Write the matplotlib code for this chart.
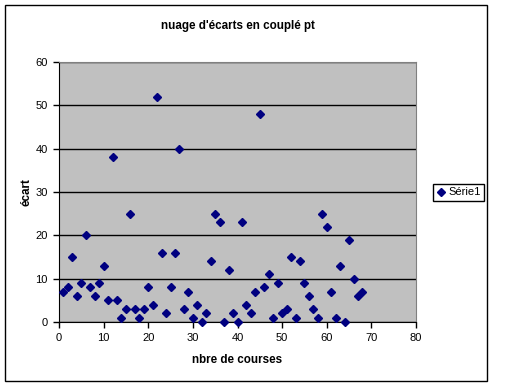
import matplotlib
matplotlib.use("Agg")
import matplotlib.pyplot as plt
from matplotlib.patches import Rectangle

plt.rcParams['font.family'] = ['Liberation Sans', 'DejaVu Sans']

# data
courses = list(range(1, 69))
ecarts = [7, 8, 15, 6, 9, 20, 8, 6, 9, 13,
          5, 38, 5, 1, 3, 25, 3, 1, 3, 8,
          4, 52, 16, 2, 8, 16, 40, 3, 7, 1,
          4, 0, 2, 14, 25, 23, 0, 12, 2, 0,
          23, 4, 2, 7, 48, 8, 11, 1, 9, 2,
          3, 15, 1, 14, 9, 6, 3, 1, 25, 22,
          7, 1, 13, 0, 19, 10, 6, 7]
x_ticks = [0, 10, 20, 30, 40, 50, 60, 70, 80]
y_ticks = [0, 10, 20, 30, 40, 50, 60]

W, H = 512, 387
fig = plt.figure(figsize=(W / 100, H / 100), dpi=100)

# outer chart frame
fig.patches.append(Rectangle((5 / W, (H - 381) / H), 482 / W, 376 / H,
                             transform=fig.transFigure, fill=False,
                             edgecolor='black', linewidth=1))

ax = fig.add_axes([59 / W, (H - 322) / H, (416 - 59) / W, (322 - 62) / H])
ax.set_facecolor('#C0C0C0')

ax.plot(courses, ecarts, linestyle='none', marker='D', markersize=3.6,
        color='#000080', label='Série1', clip_on=False, zorder=3)

ax.set_xlim(0, 80)
ax.set_ylim(0, 60)
ax.set_xticks(x_ticks)
ax.set_yticks(y_ticks)
ax.tick_params(axis='both', labelsize=8, length=4, width=1, color='black',
               direction='out', pad=4)
ax.yaxis.grid(True, color='black', linewidth=1)
ax.set_axisbelow(True)

for side in ('top', 'right'):
    ax.spines[side].set_color('#808080')
for side in ('left', 'bottom'):
    ax.spines[side].set_color('black')

ax.set_title("nuage d'écarts en couplé pt", fontsize=8.4, fontweight='bold', pad=24)
ax.set_xlabel('nbre de courses', fontsize=8.4, fontweight='bold', labelpad=8)
ax.set_ylabel('écart', fontsize=8.4, fontweight='bold', labelpad=2)

fig.legend(loc='center', bbox_to_anchor=(458.5 / W, 1 - 192.5 / H),
           frameon=True, fancybox=False, edgecolor='black', framealpha=1,
           fontsize=8, handlelength=0.8, handletextpad=0.3,
           borderpad=0.3, borderaxespad=0)

fig.savefig('out.png', dpi=100)
